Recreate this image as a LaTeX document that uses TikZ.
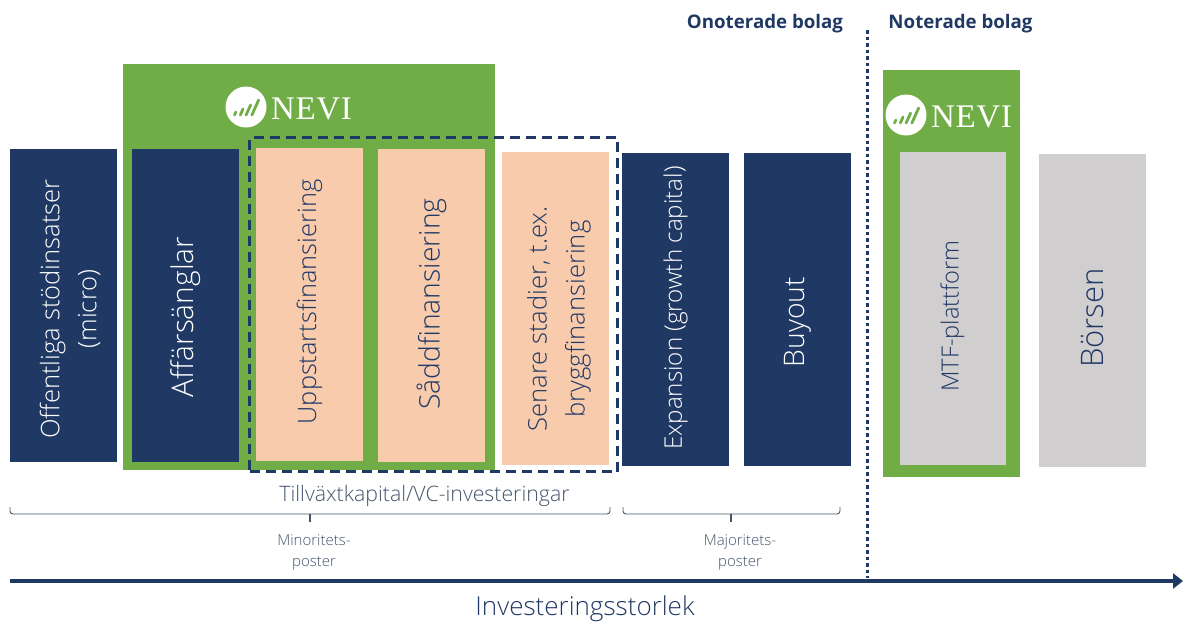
\documentclass[tikz,border=0pt]{standalone}
\usepackage{fontspec}
\setmainfont{Open Sans}[UprightFont={* Light}, BoldFont={* Bold}]
\newfontfamily\headfont{Open Sans}
\newfontfamily\nevifont[LetterSpace=2]{Liberation Serif}
\usetikzlibrary{arrows.meta}
\definecolor{navy}{HTML}{203864}
\definecolor{nevigreen}{HTML}{70AD47}
\definecolor{peach}{HTML}{F8CBAD}
\definecolor{lgray}{HTML}{D0CECE}
\definecolor{slate}{HTML}{44546A}
\newcommand{\fs}[2]{\fontsize{#1}{#2}\selectfont}
\tikzset{
  colbox/.style={minimum width=107pt, minimum height=313pt, inner sep=0pt},
  darkbox/.style={colbox, fill=navy},
  peachbox/.style={colbox, fill=peach},
  graybox/.style={colbox, fill=lgray},
  coltext/.style={rotate=90, inner sep=0pt, align=center},
  ontext/.style={coltext, text=white},
  offtext/.style={coltext, text=navy},
  greenframe/.style={fill=nevigreen, inner sep=0pt},
  bracestyle/.style={slate, line width=0.9pt, rounded corners=3pt},
  bracetick/.style={slate, line width=1.8pt},
  nevilogo/.pic={
    \node[circle, fill=white, minimum size=41pt, inner sep=0pt] (-c) at (0,0) {};
    \foreach \k/\h in {0/3,1/6,2/10,3/15}{
      \draw[nevigreen, line width=2.8pt, line cap=round] (-11.5+5.8*\k,8) -- ++(0.45*\h,-\h);
    }
    \node[anchor=base west, text=white, font=\nevifont\fs{33}{33}, inner sep=0pt] (-t) at (25,12) {NEVI};
  }
}
\begin{document}
\begin{tikzpicture}[x=1pt,y=-1pt]
\useasboundingbox (0,0) rectangle (1183,625);
% green frames
\node[greenframe, minimum width=372pt, minimum height=406pt] (g1) at (309,267) {};
\node[greenframe, minimum width=137pt, minimum height=407pt] (g2) at (951.5,273.5) {};
% logos
\pic (logoA) at (246,107) {nevilogo};
\pic (logoB) at (906,115) {nevilogo};
% columns
\node[darkbox] (b1) at (63.5,305.5) {};
\node[darkbox] (b2) at (185.5,305.5) {};
\node[peachbox] (b3) at (309.5,304) {};
\node[peachbox] (b4) at (431.5,305.5) {};
\node[peachbox] (b5) at (555.5,308) {};
\node[darkbox] (b6) at (675.5,309) {};
\node[darkbox] (b7) at (797.5,309) {};
\node[graybox, minimum width=106pt] (b8) at (952.5,308.5) {};
\node[graybox] (b9) at (1092.5,310.5) {};
% column texts
\node[ontext, font=\fs{25.6}{37}] (t1) at (70,309) {Offentliga stödinsatser\\(micro)};
\node[ontext, font=\fs{29.9}{32}] (t2) at (185.5,317) {Affärsänglar};
\node[offtext, font=\fs{25.4}{32}] (t3) at (309.5,302) {Uppstartsfinansiering};
\node[offtext, font=\fs{28.3}{32}] (t4) at (431.5,304) {Såddfinansiering};
\node[offtext, font=\fs{25.6}{38}] (t5) at (559,319) {Senare stadier, t.ex.\\bryggfinansiering};
\node[ontext, font=\fs{24.2}{28}] (t6) at (675.5,308) {Expansion (growth capital)};
\node[ontext, font=\fs{28.3}{32}] (t7) at (797.5,322) {Buyout};
\node[offtext, font=\fs{23.7}{30}] (t8) at (952.5,316) {MTF-plattform};
\node[offtext, font=\fs{31}{32}] (t9) at (1092.5,318) {Börsen};
% dashed VC frame
\node[draw=navy, line width=2.5pt, dash pattern=on 10pt off 6pt, minimum width=368pt, minimum height=334pt, inner sep=0pt] (vc) at (433.5,304.5) {};
% headings
\node[font=\headfont\bfseries\fs{18.7}{18.7}, text=navy] (onot) at (765,24) {Onoterade bolag};
\node[font=\headfont\bfseries\fs{18.7}{18.7}, text=navy] (not) at (960.5,24) {Noterade bolag};
% dotted separator
\coordinate (dtop) at (867.5,30);
\coordinate (dbot) at (867.5,578);
\draw[navy, line width=3.5pt, dash pattern=on 3.5pt off 3pt] (dtop) -- (dbot);
% braces
\node[font=\fs{21.3}{21.3}, text=slate] (vclab) at (424.5,496) {Tillväxtkapital/VC-investeringar};
\coordinate (bAl) at (10,507);
\coordinate (bAm) at (310,514);
\coordinate (bAr) at (610,507);
\coordinate (bAt) at (310,522);
\draw[bracestyle] (bAl) |- (bAm) -| (bAr);
\draw[bracetick] (bAm) -- (bAt);
\coordinate (bBl) at (623,507);
\coordinate (bBm) at (731,514);
\coordinate (bBr) at (840,507);
\coordinate (bBt) at (731,522);
\draw[bracestyle] (bBl) |- (bBm) -| (bBr);
\draw[bracetick] (bBm) -- (bBt);
\node[font=\fs{15}{21}, text=slate, align=center] (minor) at (314,552) {Minoritets-\\poster};
\node[font=\fs{15}{21}, text=slate, align=center] (major) at (740,552) {Majoritets-\\poster};
% axis
\coordinate (axs) at (10,581);
\coordinate (axe) at (1183,581);
\draw[navy, line width=4pt, -{Triangle[length=10pt,width=15pt]}] (axs) -- (axe);
\node[font=\fs{26}{26}, text=navy] (axlab) at (585,609) {Investeringsstorlek};
\end{tikzpicture}
\end{document}
